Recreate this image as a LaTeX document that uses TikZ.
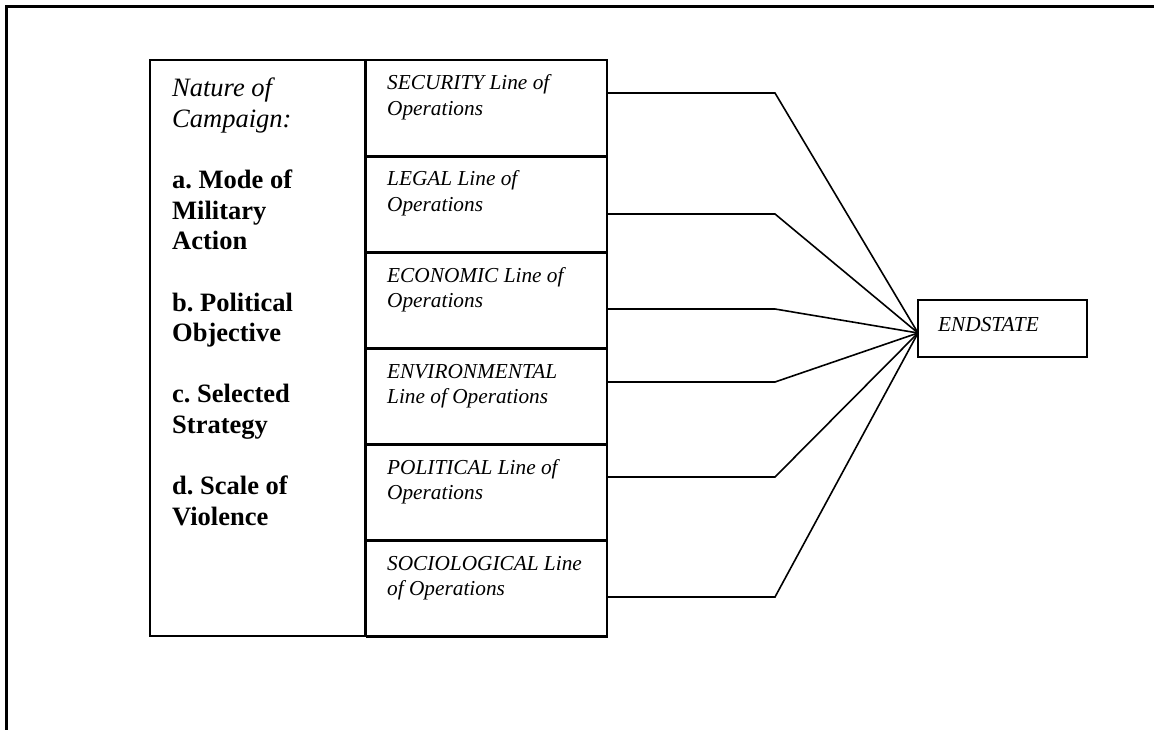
\documentclass[tikz,border=0pt]{standalone}
\usepackage{fontspec}
\setmainfont{Liberation Serif}
\frenchspacing
\begin{document}
\begin{tikzpicture}[x=1pt,y=-1pt,
  boxstyle/.style={draw,line width=1.7pt,inner sep=0pt,minimum width=240.5pt,minimum height=96pt},
  rowtext/.style={anchor=base west,inner sep=0pt,font=\fontsize{21.3}{25.5}\selectfont\itshape},
  link/.style={line width=1.6pt,line join=miter}]
\useasboundingbox (0,0) rectangle (1154,730);
% outer frame (top and left only)
\draw[line width=2.8pt] (6.2,730) -- (6.2,6.2) -- (1154,6.2);
% left box
\node[draw,line width=1.7pt,inner sep=0pt,minimum width=216.5pt,minimum height=576pt] (nature) at (258.25,348) {};
\node[anchor=base west,inner sep=0pt] (naturetext) at (172,97) {\parbox[t]{185pt}{\fontsize{26.5}{30.6}\selectfont\raggedright
\textit{Nature of}\\
\textit{Campaign:}\\[30.6pt]
\textbf{a. Mode of}\\
\textbf{Military}\\
\textbf{Action}\\[30.6pt]
\textbf{b. Political}\\
\textbf{Objective}\\[30.6pt]
\textbf{c. Selected}\\
\textbf{Strategy}\\[30.6pt]
\textbf{d. Scale of}\\
\textbf{Violence}}};
% rows
\node[boxstyle] (r1) at (486.75,108) {};
\node[boxstyle] (r2) at (486.75,204) {};
\node[boxstyle] (r3) at (486.75,300) {};
\node[boxstyle] (r4) at (486.75,396) {};
\node[boxstyle] (r5) at (486.75,492) {};
\node[boxstyle] (r6) at (486.75,588) {};
% thicker left edge and dividers of the middle column
\draw[line width=2.6pt] (r1.north west) -- (r6.south west);
\foreach \a/\b in {r1/r2,r2/r3,r3/r4,r4/r5,r5/r6}{
  \draw[line width=2.6pt] (\a.south west) -- (\a.south east);
}
\draw[line width=2.2pt] (r6.south west) -- (r6.south east);
\node[rowtext] (t1) at (387,90) {\parbox[t]{215pt}{SECURITY Line of\\Operations}};
\node[rowtext] (t2) at (387,186) {\parbox[t]{215pt}{LEGAL Line of\\Operations}};
\node[rowtext] (t3) at (387,282) {\parbox[t]{215pt}{ECONOMIC Line of\\Operations}};
\node[rowtext] (t4) at (387,378) {\parbox[t]{215pt}{ENVIRONMENTAL\\Line of Operations}};
\node[rowtext] (t5) at (387,474) {\parbox[t]{215pt}{POLITICAL Line of\\Operations}};
\node[rowtext] (t6) at (387,570) {\parbox[t]{215pt}{SOCIOLOGICAL Line\\of Operations}};
% endstate
\node[draw,line width=1.7pt,inner sep=0pt,minimum width=169pt,minimum height=57pt] (endbox) at (1002.5,328.5) {};
\node[rowtext] (endtext) at (938,331.5) {ENDSTATE};
\coordinate (endin) at (918,333);
% bends
\coordinate (b1) at (775,93);
\coordinate (b2) at (775,214);
\coordinate (b3) at (775,309);
\coordinate (b4) at (775,382);
\coordinate (b5) at (775,477);
\coordinate (b6) at (775,597);
\foreach \i in {1,...,6}{
  \draw[link] (r\i.east |- b\i) -- (b\i) -- (endin);
}
\end{tikzpicture}
\end{document}
